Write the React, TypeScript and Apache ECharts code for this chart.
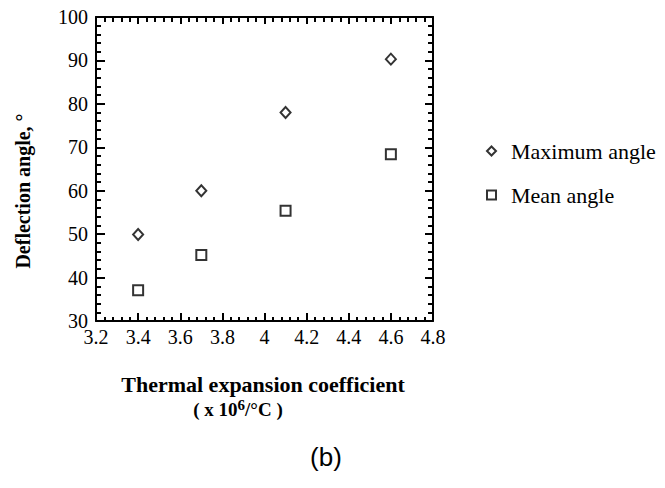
import React, { useEffect, useRef } from "react";
import * as echarts from "echarts";

const xValues = [3.4, 3.7, 4.1, 4.6];
const maxAngle = [49.9, 60.0, 78.0, 90.3];
const meanAngle = [37.1, 45.2, 55.4, 68.4];
const seriesNames = ["Maximum angle", "Mean angle"];

const SERIF = "Liberation Serif";

export default function App() {
  const ref = useRef<HTMLDivElement>(null);
  useEffect(() => {
    if (!ref.current) return;
    const chart = echarts.init(ref.current, undefined, { renderer: "svg" });
    const markerStyle = { color: "#fff", borderColor: "#000", borderWidth: 2 };
    const commonAxisLine = { show: true, lineStyle: { color: "#000", width: 2 } };
    chart.setOption({
      animation: false,
      backgroundColor: "#fff",
      textStyle: { fontFamily: SERIF, color: "#000" },
      grid: { left: 96, right: 232, top: 17, bottom: 167 },
      xAxis: [
        {
          type: "value",
          min: 3.2,
          max: 4.8,
          interval: 0.2,
          position: "bottom",
          axisLine: commonAxisLine,
          axisTick: { show: true, inside: true, length: 8, lineStyle: { color: "#000", width: 2 } },
          minorTick: { show: true, splitNumber: 5, length: 4, lineStyle: { color: "#000", width: 2 } },
          splitLine: { show: false },
          axisLabel: {
            color: "#000",
            fontFamily: SERIF,
            fontSize: 20,
            margin: 6,
            formatter: (v: number) => String(Math.round(v * 10) / 10),
          },
        },
        {
          type: "value",
          min: 3.2,
          max: 4.8,
          interval: 0.2,
          position: "top",
          axisLine: commonAxisLine,
          axisTick: { show: true, inside: true, length: 7, lineStyle: { color: "#000", width: 2 } },
          minorTick: { show: true, splitNumber: 5, length: 5, lineStyle: { color: "#000", width: 2 } },
          splitLine: { show: false },
          axisLabel: { show: false },
        },
      ],
      yAxis: [
        {
          type: "value",
          min: 30,
          max: 100,
          interval: 10,
          position: "left",
          axisLine: commonAxisLine,
          axisTick: { show: true, inside: true, length: 9, lineStyle: { color: "#000", width: 2 } },
          minorTick: { show: true, splitNumber: 5, length: 5, lineStyle: { color: "#000", width: 2 } },
          splitLine: { show: false },
          axisLabel: { color: "#000", fontFamily: SERIF, fontSize: 20, margin: 8 },
        },
        {
          type: "value",
          min: 30,
          max: 100,
          interval: 10,
          position: "right",
          axisLine: commonAxisLine,
          axisTick: { show: true, inside: true, length: 8, lineStyle: { color: "#000", width: 2 } },
          minorTick: { show: true, splitNumber: 5, length: 5, lineStyle: { color: "#000", width: 2 } },
          splitLine: { show: false },
          axisLabel: { show: false },
        },
      ],
      legend: {
        orient: "vertical",
        left: 481,
        top: 135,
        itemWidth: 9,
        itemHeight: 9,
        itemGap: 22,
        data: [
          { name: seriesNames[0], icon: "diamond" },
          { name: seriesNames[1], icon: "rect" },
        ],
        itemStyle: markerStyle,
        textStyle: {
          color: "#000",
          fontFamily: SERIF,
          fontSize: 22,
          lineHeight: 22,
          padding: [0, 0, 0, 10],
        },
      },
      series: [
        {
          name: seriesNames[0],
          type: "scatter",
          symbol: "diamond",
          symbolSize: [10, 11],
          itemStyle: markerStyle,
          data: xValues.map((x, i) => [x, maxAngle[i]]),
        },
        {
          name: seriesNames[1],
          type: "scatter",
          symbol: "rect",
          symbolSize: 10,
          itemStyle: markerStyle,
          data: xValues.map((x, i) => [x, meanAngle[i]]),
        },
      ],
      graphic: [
        {
          type: "text",
          x: 23,
          y: 191,
          rotation: Math.PI / 2,
          style: {
            text: "Deflection angle, °",
            fontFamily: SERIF,
            fontWeight: "bold",
            fontSize: 20,
            fill: "#000",
            align: "center",
            verticalAlign: "middle",
          },
        },
        {
          type: "text",
          x: 263,
          y: 384,
          style: {
            text: "Thermal expansion coefficient",
            fontFamily: SERIF,
            fontWeight: "bold",
            fontSize: 22,
            fill: "#000",
            align: "center",
            verticalAlign: "middle",
          },
        },
        {
          type: "text",
          x: 238,
          y: 409,
          style: {
            text: "( x 10{sup|6}/°C )",
            fontFamily: SERIF,
            fontWeight: "bold",
            fontSize: 19,
            fill: "#000",
            align: "center",
            verticalAlign: "middle",
            rich: {
              sup: {
                fontFamily: SERIF,
                fontWeight: "bold",
                fontSize: 15,
                verticalAlign: "top",
                padding: [0, 0, 8, 0],
              },
            },
          },
        },
        {
          type: "text",
          x: 326,
          y: 457,
          style: {
            text: "(b)",
            fontFamily: "Liberation Sans",
            fontSize: 26,
            fill: "#000",
            align: "center",
            verticalAlign: "middle",
          },
        },
      ],
    });
    return () => chart.dispose();
  }, []);
  return (
    <div
      ref={ref}
      style={{ position: "fixed", left: 0, top: 0, width: 665, height: 488, background: "#fff" }}
    />
  );
}
